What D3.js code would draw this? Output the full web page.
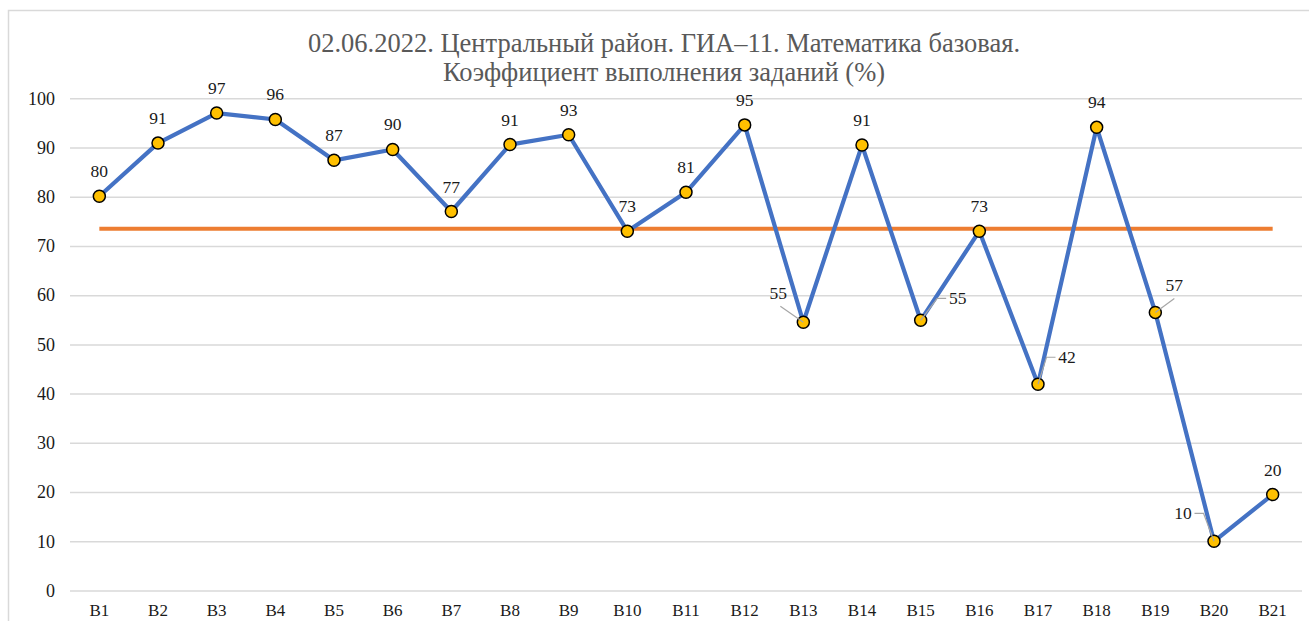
<!DOCTYPE html>
<head>
  <meta charset="utf-8">
  <script src="https://cdn.jsdelivr.net/npm/d3@7"></script>
  <style>
    body { margin:0; background:#fff; }
    svg text { font-family: "Liberation Serif", "Times New Roman", serif !important; }
  </style>
</head>
<body>
  <script>
    // data
    var tasks = ["В1","В2","В3","В4","В5","В6","В7","В8","В9","В10","В11",
                 "В12","В13","В14","В15","В16","В17","В18","В19","В20","В21"];
    var values = [80.1, 90.9, 97.0, 95.7, 87.4, 89.6, 77.0, 90.6, 92.6, 73.0, 80.9,
                  94.6, 54.5, 90.5, 54.9, 73.0, 41.9, 94.1, 56.5, 10.0, 19.5];
    var avgValue = 73.5;
    var yTicks = [0,10,20,30,40,50,60,70,80,90,100];
    var titleLines = ["02.06.2022. Центральный район. ГИА–11. Математика базовая.",
                      "Коэффициент выполнения заданий (%)"];

    // label shifts for points where the label is pulled away (label centre offset)
    var labelShift = {
      "В13": [-25, -29], "В15": [37, -22], "В17": [29, -27],
      "В19": [19, -27], "В20": [-31, -28]
    };

    var serif = "'Liberation Serif', 'Times New Roman', serif";
    var width = 1309, height = 621;
    var svg = d3.select("body").append("svg")
      .attr("width", width).attr("height", height)
      .attr("font-family", serif);

    // chart border
    svg.append("rect")
      .attr("x", 8.5).attr("y", 10.5)
      .attr("width", 1320).attr("height", 640)
      .attr("fill", "none").attr("stroke", "#d9d9d9").attr("stroke-width", 1.5);

    var x = d3.scaleBand().domain(tasks).range([70, 1302]);
    var y = d3.scaleLinear().domain([0, 100]).range([590.5, 98.3]);
    var cx = function(d) { return x(d) + x.bandwidth() / 2; };

    // title
    svg.append("g").selectAll("text")
      .data(titleLines).enter().append("text")
      .attr("x", 664).attr("y", function(d, i) { return 52 + i * 29; })
      .attr("text-anchor", "middle")
      .attr("fill", "#595959")
      .attr("font-family", serif)
      .style("font-size", "26.5px")
      .text(function(d) { return d; });

    // y axis + grid
    var yAxis = svg.append("g")
      .attr("transform", "translate(70,0)")
      .call(d3.axisLeft(y).tickValues(yTicks).tickSize(-1232).tickPadding(15));
    yAxis.attr("font-family", serif);
    yAxis.select(".domain").remove();
    yAxis.selectAll(".tick line").attr("stroke", "#d9d9d9").attr("stroke-width", 1.5);
    yAxis.selectAll(".tick text")
      .attr("fill", "#1a1a1a")
      .style("font-size", "18px");

    // x axis
    var xAxis = svg.append("g")
      .attr("transform", "translate(0," + y(0) + ")")
      .call(d3.axisBottom(x).tickSize(0).tickPadding(13));
    xAxis.attr("font-family", serif);
    xAxis.select(".domain").remove();
    xAxis.selectAll(".tick text")
      .attr("fill", "#1a1a1a")
      .style("font-size", "17px");

    // average line
    svg.append("line")
      .attr("x1", cx(tasks[0])).attr("x2", cx(tasks[tasks.length - 1]))
      .attr("y1", y(avgValue)).attr("y2", y(avgValue))
      .attr("stroke", "#ed7d31").attr("stroke-width", 4);

    var pts = tasks.map(function(t, i) { return { t: t, v: values[i] }; });

    // main series line
    var line = d3.line()
      .x(function(d) { return cx(d.t); })
      .y(function(d) { return y(d.v); });
    svg.append("path")
      .datum(pts)
      .attr("d", line)
      .attr("fill", "none")
      .attr("stroke", "#4472c4")
      .attr("stroke-width", 4.2)
      .attr("stroke-linejoin", "round");

    // markers
    svg.append("g").selectAll("circle")
      .data(pts).enter().append("circle")
      .attr("cx", function(d) { return cx(d.t); })
      .attr("cy", function(d) { return y(d.v); })
      .attr("r", 6)
      .attr("fill", "#ffc000")
      .attr("stroke", "#000")
      .attr("stroke-width", 1.5);

    // leader lines
    var leaders = svg.append("g");
    pts.forEach(function(d) {
      var s = labelShift[d.t];
      if (!s) return;
      var px = cx(d.t), py = y(d.v);
      var lx = px + s[0], ly = py + s[1];
      var pathD;
      if (Math.abs(s[0]) > 26) {
        var sg = s[0] > 0 ? 1 : -1;
        var ex = lx - sg * 11.5;
        pathD = "M" + px + "," + py + "L" + (ex - sg * 9) + "," + ly + "L" + ex + "," + ly;
      } else {
        pathD = "M" + px + "," + py + "L" + (lx + (s[0] < 0 ? 2 : 0)) + "," + (ly + 13);
      }
      leaders.append("path")
        .attr("d", pathD)
        .attr("fill", "none")
        .attr("stroke", "#a6a6a6")
        .attr("stroke-width", 1.2);
    });

    // data labels
    svg.append("g").selectAll("text")
      .data(pts).enter().append("text")
      .attr("x", function(d) { var s = labelShift[d.t]; return cx(d.t) + (s ? s[0] : 0); })
      .attr("y", function(d) { var s = labelShift[d.t]; return y(d.v) + (s ? s[1] : -25) + 6; })
      .attr("text-anchor", "middle")
      .attr("fill", "#1a1a1a")
      .attr("font-family", serif)
      .style("font-size", "17.5px")
      .text(function(d) { return Math.round(d.v); });
  </script>
</body>
